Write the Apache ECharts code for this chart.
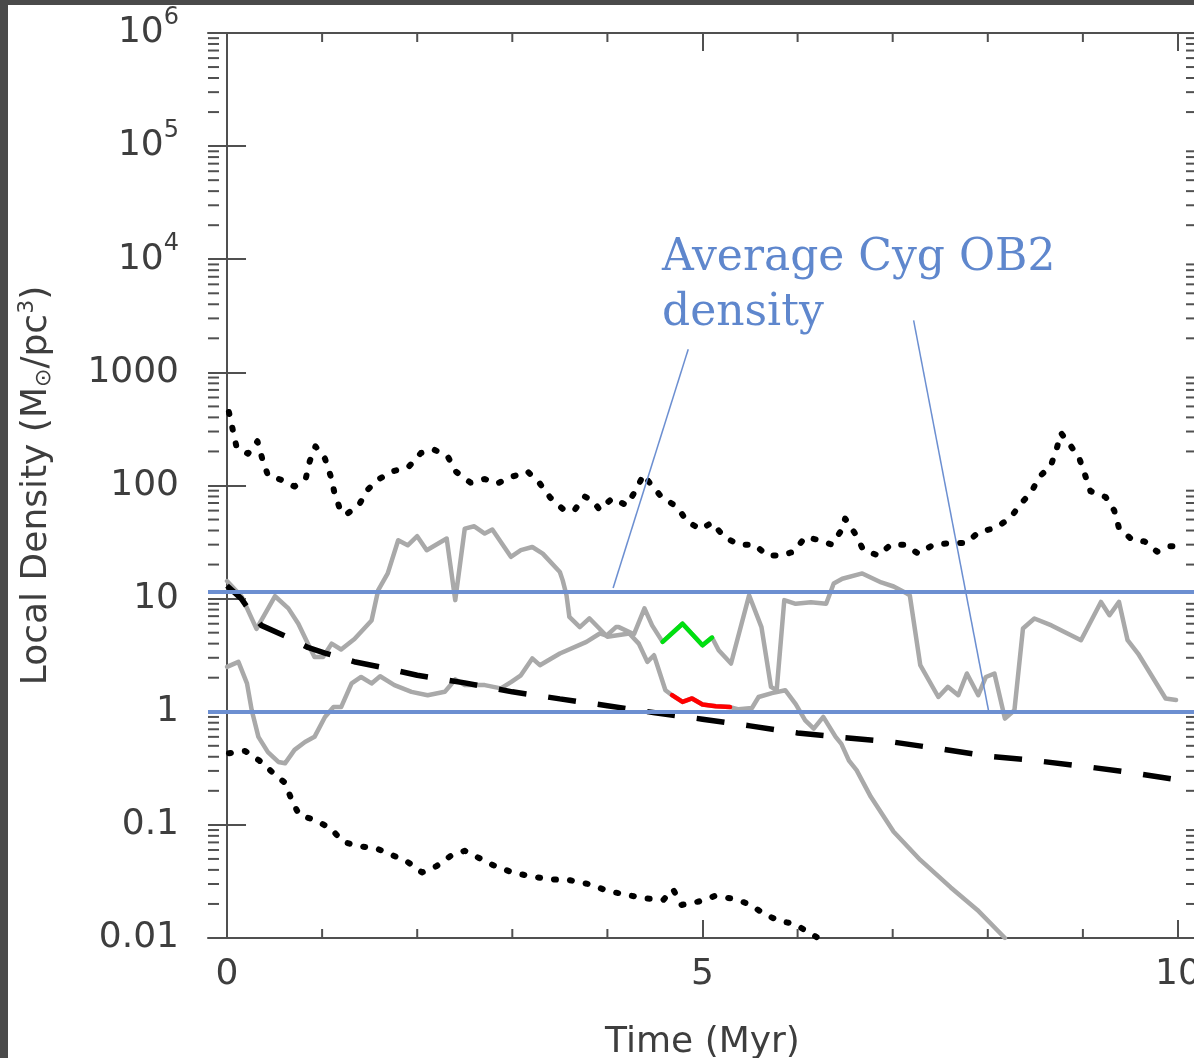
<!DOCTYPE html>
<html>
<head>
<meta charset="utf-8">
<script src="https://cdn.jsdelivr.net/npm/echarts@6/dist/echarts.min.js"></script>
<style>
  html, body { margin: 0; padding: 0; background: #ffffff; }
  #chart { width: 1194px; height: 1058px; }
</style>
</head>
<body>
<div id="chart"></div>
<script>
// ---- axis ranges and ticks ----
const X_MIN = -0.2, X_MAX = 10.2;
const Y_MIN = 0.01, Y_MAX = 1e6;
const xMajorTicks = [0, 5, 10];
const xMinorTicks = [1, 2, 3, 4, 6, 7, 8, 9];
const yTickValues = [0.01, 0.1, 1, 10, 100, 1000, 1e4, 1e5, 1e6];
const yTickText = ['0.01', '0.1', '1', '10', '100', '1000', '10^4', '10^5', '10^6'];
const yDecades = [0.01, 0.1, 1, 10, 100, 1000, 1e4, 1e5];
const yMinorFactors = [2, 3, 4, 5, 6, 7, 8, 9];

// ---- Cyg OB2 average density band (Msun / pc^3) ----
const cygBand = [1.0, 11.6];

// ---- local density histories [time Myr, density Msun/pc^3] ----
const upperDotted = [
  [0.02,446],[0.06,312],[0.10,219],[0.22,191],[0.32,246],[0.37,173],[0.43,123],[0.56,113],
  [0.71,98],[0.83,117],[0.87,164],[0.93,222],[1.03,173],[1.09,121],[1.13,86],[1.19,61],
  [1.25,55],[1.39,68],[1.48,92],[1.59,113],[1.75,134],[1.91,146],[2.04,194],[2.17,209],
  [2.32,181],[2.41,132],[2.56,106],[2.71,114],[2.84,104],[2.99,119],[3.16,133],[3.29,104],
  [3.40,78],[3.54,61],[3.65,60],[3.76,80],[3.84,74],[3.92,61],[4.05,77],[4.20,67],
  [4.30,91],[4.38,125],[4.45,104],[4.57,79],[4.73,65],[4.84,48],[4.98,41],[5.10,47],
  [5.23,35],[5.38,30],[5.55,30],[5.68,24],[5.82,24],[5.96,26],[6.08,35],[6.22,33],
  [6.36,30],[6.45,39],[6.50,51],[6.61,37],[6.69,27],[6.85,24],[6.98,30],[7.12,30],
  [7.27,25],[7.43,30],[7.61,31],[7.77,31],[7.91,39],[8.08,42],[8.24,52],[8.34,68],
  [8.46,88],[8.54,119],[8.66,148],[8.72,205],[8.77,291],[8.85,238],[8.96,176],[9.02,126],
  [9.08,89],[9.24,79],[9.33,60],[9.38,42],[9.52,33],[9.65,32],[9.78,26],[9.91,29],[9.98,29]
];

const lowerDotted = [
  [0.02,0.43],[0.19,0.45],[0.34,0.37],[0.48,0.29],[0.61,0.235],[0.68,0.166],[0.76,0.122],
  [0.93,0.110],[1.09,0.093],[1.22,0.071],[1.38,0.065],[1.57,0.062],[1.74,0.054],[1.90,0.047],
  [2.05,0.038],[2.20,0.043],[2.35,0.053],[2.50,0.059],[2.65,0.051],[2.80,0.044],[3.00,0.038],
  [3.20,0.035],[3.40,0.033],[3.60,0.0325],[3.80,0.030],[4.01,0.026],[4.21,0.024],[4.40,0.0224],
  [4.59,0.0218],[4.69,0.027],[4.78,0.0196],[4.96,0.021],[5.13,0.0235],[5.30,0.0224],
  [5.49,0.020],[5.64,0.0165],[5.80,0.0142],[5.97,0.0133],[6.13,0.011],[6.20,0.0102]
];

const meanDashed = [
  [0,13],[0.15,10],[0.23,8.0],[0.36,5.8],[0.63,4.6],[0.85,3.7],[1.03,3.3],[1.35,2.75],
  [1.62,2.48],[2.0,2.1],[2.5,1.8],[3.0,1.5],[3.5,1.3],[4.0,1.13],[4.5,0.98],[5.0,0.86],
  [5.5,0.75],[6.0,0.65],[6.5,0.59],[7.0,0.54],[7.5,0.47],[8.0,0.405],[8.5,0.37],[9.0,0.33],
  [9.5,0.29],[10.0,0.25]
];

const starA = [
  [0,14.3],[0.155,10.4],[0.31,5.4],[0.505,10.5],[0.645,8.2],[0.75,6.0],[0.87,3.7],[0.92,3.05],
  [1.01,3.05],[1.10,4.0],[1.20,3.55],[1.34,4.4],[1.52,6.4],[1.59,11.9],[1.69,16.7],[1.80,32.8],
  [1.90,29.6],[2.00,35.6],[2.10,26.8],[2.31,34],[2.40,9.7],[2.50,41.6],[2.60,43.6],[2.71,37.6],
  [2.79,40.8],[2.985,23.4],[3.09,26.8],[3.21,28.6],[3.32,25],[3.50,17.2],[3.53,14.5],[3.57,10.7],
  [3.60,6.9],[3.71,5.6],[3.81,6.7],[4.00,4.6],[4.23,4.92],[4.33,4.0],[4.42,2.76],[4.49,3.16],
  [4.61,1.55],[4.68,1.40],[4.79,1.22],[4.89,1.31],[5.00,1.16],[5.14,1.12],[5.29,1.10],[5.38,1.05],
  [5.52,1.08],[5.59,1.35],[5.73,1.46],[5.87,1.55],[5.98,1.17],[6.08,0.84],[6.17,0.71],[6.27,0.90],
  [6.40,0.60],[6.46,0.52],[6.54,0.37],[6.62,0.305],[6.77,0.177],[7.01,0.087],[7.29,0.049],
  [7.61,0.028],[7.89,0.0177],[8.18,0.0100]
];

const starB = [
  [0,2.49],[0.12,2.76],[0.21,1.78],[0.26,1.03],[0.33,0.6],[0.43,0.44],[0.54,0.36],[0.61,0.35],
  [0.71,0.46],[0.82,0.54],[0.92,0.6],[1.03,0.90],[1.12,1.10],[1.20,1.10],[1.31,1.78],[1.41,2.03],
  [1.52,1.78],[1.61,2.06],[1.76,1.72],[1.94,1.50],[2.11,1.40],[2.29,1.50],[2.40,1.93],[2.50,1.72],
  [2.71,1.72],[2.88,1.61],[2.99,1.84],[3.09,2.10],[3.21,2.96],[3.29,2.58],[3.50,3.27],[3.78,4.15],
  [3.92,4.92],[3.99,4.7],[4.09,5.6],[4.12,5.6],[4.28,4.85],[4.39,8.2],[4.47,5.8],[4.58,4.15],
  [4.79,6.0],[5.00,3.87],[5.10,4.53],[5.17,3.5],[5.30,2.67],[5.49,10.7],[5.62,5.6],[5.72,1.66],
  [5.78,1.55],[5.86,9.7],[5.98,9.0],[6.14,9.3],[6.30,9.0],[6.38,13.6],[6.47,15.0],[6.68,16.7],
  [6.88,13.9],[7.01,12.8],[7.15,11.1],[7.18,10.7],[7.29,2.58],[7.48,1.35],[7.58,1.66],[7.69,1.40],
  [7.78,2.18],[7.90,1.40],[7.98,2.03],[8.07,2.18],[8.18,0.87],[8.28,1.03],[8.37,5.44],[8.49,6.67],
  [8.67,5.8],[8.98,4.29],[9.19,9.35],[9.28,7.13],[9.38,9.35],[9.47,4.29],[9.58,3.27],[9.87,1.31],
  [9.98,1.27]
];

const greenStretch = [[4.58,4.15],[4.79,6.0],[5.00,3.87],[5.10,4.53]];
const redStretch = [[4.68,1.40],[4.79,1.22],[4.89,1.31],[5.00,1.16],[5.14,1.12],[5.29,1.10]];

// pointer lines from the label to the band edges
const pointerUpper = [[4.85, 1600], [4.06, 12.4]];
const pointerLower = [[7.22, 2880], [8.01, 1.0]];

// ---- styling ----
const FRAME = '#505050';
const TEXT = '#3e3e3e';
const SANS = '"DejaVu Sans", sans-serif';
const BLUE = '#6c8fd1';
const GRAY = '#a9a9a9';

const chart = echarts.init(document.getElementById('chart'), null, { renderer: 'canvas' });

function yLabel(v) {
  const i = Math.round(Math.log10(v)) + 2;
  const t = yTickText[i] || '';
  const k = t.indexOf('^');
  if (k < 0) return t;
  return '{b|' + t.slice(0, k) + '}{s|' + t.slice(k + 1) + '}';
}

const yMinorData = [];
yDecades.forEach(d => yMinorFactors.forEach(f => yMinorData.push([X_MIN, d * f])));
const xMinorData = xMinorTicks.map(t => [t, Y_MIN]);

const tickStyle = { stroke: FRAME, lineWidth: 2 };

function plainLine(name, data, color, z) {
  return {
    name, type: 'line', data, z, showSymbol: false, symbol: 'none', silent: true,
    lineStyle: { color, width: 4.5, cap: 'round', join: 'round' }
  };
}

const option = {
  animation: false,
  backgroundColor: '#ffffff',
  grid: { left: 208, right: -3, top: 33, bottom: 120, containLabel: false, outerBoundsMode: 'none' },
  xAxis: [
    {
      type: 'value', min: X_MIN, max: X_MAX, position: 'bottom',
      axisLine: { show: true, lineStyle: { color: FRAME, width: 2 } },
      axisTick: { show: true, inside: true, length: 18, customValues: xMajorTicks, lineStyle: { color: FRAME, width: 2 } },
      axisLabel: { show: true, customValues: xMajorTicks, fontSize: 36, fontFamily: SANS, color: TEXT, margin: 19 },
      splitLine: { show: false },
      name: 'Time (Myr)', nameLocation: 'middle', nameGap: 87,
      nameTextStyle: { fontSize: 36, fontFamily: SANS, color: TEXT }
    },
    {
      type: 'value', min: X_MIN, max: X_MAX, position: 'top',
      axisLine: { show: true, lineStyle: { color: FRAME, width: 2 } },
      axisTick: { show: true, inside: true, length: 18, customValues: xMajorTicks, lineStyle: { color: FRAME, width: 2 } },
      axisLabel: { show: false },
      splitLine: { show: false }
    }
  ],
  yAxis: [
    {
      type: 'log', logBase: 10, min: Y_MIN, max: Y_MAX, position: 'left',
      axisLine: { show: true, lineStyle: { color: FRAME, width: 2 } },
      axisTick: { show: true, inside: true, length: 19, customValues: yTickValues, lineStyle: { color: FRAME, width: 2 } },
      axisLabel: {
        show: true, customValues: yTickValues, formatter: yLabel,
        fontSize: 36, fontFamily: SANS, color: TEXT, margin: 29,
        rich: {
          b: { fontSize: 36, fontFamily: SANS, color: TEXT },
          s: { fontSize: 24, fontFamily: SANS, color: TEXT, padding: [0, 0, 30, 0] }
        }
      },
      splitLine: { show: false },
      name: 'Local Density (M{sub|⊙}/pc{sup|3})', nameLocation: 'middle', nameGap: 150, nameRotate: 90,
      nameTextStyle: {
        fontSize: 36, fontFamily: SANS, color: TEXT,
        rich: {
          sub: { fontSize: 22, fontFamily: SANS, color: TEXT, padding: [14, 0, 0, 0] },
          sup: { fontSize: 22, fontFamily: SANS, color: TEXT, padding: [0, 0, 20, 0] }
        }
      }
    },
    {
      type: 'log', logBase: 10, min: Y_MIN, max: Y_MAX, position: 'right',
      axisLine: { show: true, lineStyle: { color: FRAME, width: 2 } },
      axisTick: { show: true, inside: true, length: 19, customValues: yTickValues, lineStyle: { color: FRAME, width: 2 } },
      axisLabel: { show: false },
      splitLine: { show: false }
    }
  ],
  series: [
    // minor ticks on the log axes (left and right frame)
    {
      type: 'custom', name: 'yMinor', data: yMinorData, z: 6, silent: true, clip: false,
      renderItem: (params, api) => {
        const v = api.value(1);
        const l = api.coord([X_MIN, v]);
        const r = api.coord([X_MAX, v]);
        return { type: 'group', children: [
          { type: 'line', shape: { x1: l[0], y1: l[1], x2: l[0] + 11, y2: l[1] }, style: tickStyle },
          { type: 'line', shape: { x1: r[0], y1: r[1], x2: r[0] - 11, y2: r[1] }, style: tickStyle }
        ] };
      }
    },
    // minor ticks on the time axes (bottom and top frame)
    {
      type: 'custom', name: 'xMinor', data: xMinorData, z: 6, silent: true, clip: false,
      renderItem: (params, api) => {
        const t = api.value(0);
        const b = api.coord([t, Y_MIN]);
        const u = api.coord([t, Y_MAX]);
        return { type: 'group', children: [
          { type: 'line', shape: { x1: b[0], y1: b[1], x2: b[0], y2: b[1] - 9 }, style: tickStyle },
          { type: 'line', shape: { x1: u[0], y1: u[1], x2: u[0], y2: u[1] + 9 }, style: tickStyle }
        ] };
      }
    },
    plainLine('starA', starA, GRAY, 2),
    plainLine('starB', starB, GRAY, 2),
    plainLine('green', greenStretch, '#00e010', 3),
    plainLine('red', redStretch, '#ff0000', 3),
    {
      name: 'mean', type: 'line', data: meanDashed, z: 4, showSymbol: false, symbol: 'none', silent: true,
      lineStyle: { color: '#000000', width: 5.5, type: [28, 22], cap: 'butt' },
      markLine: {
        silent: true, symbol: 'none', z: 5, animation: false,
        label: { show: false },
        data: [
          { yAxis: cygBand[1], lineStyle: { color: BLUE, width: 4, type: 'solid' } },
          { yAxis: cygBand[0], lineStyle: { color: BLUE, width: 4, type: 'solid' } },
          [ { coord: pointerUpper[0], lineStyle: { color: BLUE, width: 1.5, type: 'solid' } }, { coord: pointerUpper[1] } ],
          [ { coord: pointerLower[0], lineStyle: { color: BLUE, width: 1.5, type: 'solid' } }, { coord: pointerLower[1] } ]
        ]
      }
    },
    {
      name: 'upper', type: 'line', data: upperDotted, z: 4, showSymbol: false, symbol: 'none', silent: true,
      lineStyle: { color: '#000000', width: 6, type: [2, 14], cap: 'round', join: 'round' }
    },
    {
      name: 'lower', type: 'line', data: lowerDotted, z: 4, showSymbol: false, symbol: 'none', silent: true,
      lineStyle: { color: '#000000', width: 6, type: [2, 14], cap: 'round', join: 'round' }
    }
  ],
  graphic: [
    { type: 'rect', left: 0, top: 0, shape: { width: 1194, height: 5 }, style: { fill: '#4a4a4a' }, z: 100 },
    { type: 'rect', left: 0, top: 0, shape: { width: 8, height: 1058 }, style: { fill: '#4a4a4a' }, z: 100 },
    {
      type: 'text', left: 662, top: 231, z: 50,
      style: { text: 'Average Cyg OB2\ndensity', font: '44px "DejaVu Serif", serif', fill: '#5f87cd', lineHeight: 55 }
    }
  ]
};

chart.setOption(option);
</script>
</body>
</html>
